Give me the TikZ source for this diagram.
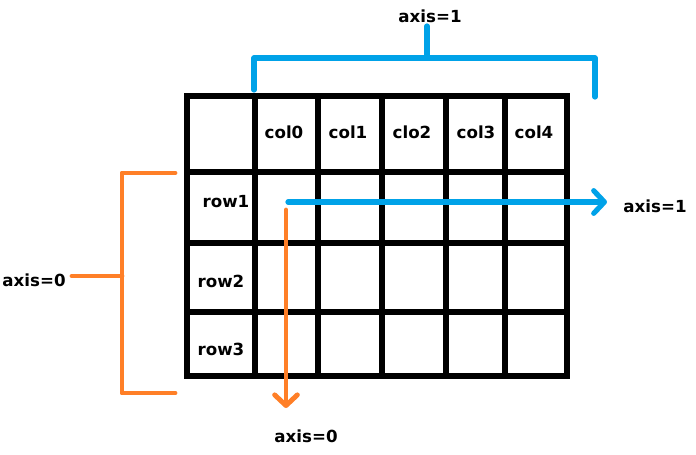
\documentclass[tikz,border=0pt]{standalone}
\usepackage{fontspec}
\setmainfont{DejaVu Sans}
\usetikzlibrary{arrows.meta}
\definecolor{pblue}{HTML}{00A2E8}
\definecolor{porange}{HTML}{FF7F27}
\begin{document}
\begin{tikzpicture}[x=0.75pt,y=-0.75pt,
  lbl/.style={font=\fontsize{12.5pt}{14pt}\selectfont\bfseries,inner sep=0pt},
  gridline/.style={line width=3.8pt,line cap=rect},
  bluel/.style={pblue,line width=3.9pt,line cap=round,line join=round},
  orangel/.style={porange,line width=3.7pt,line cap=round,line join=round},
  barb/.style={-{Straight Barb[length=8pt,width=17pt,round]}}]
\useasboundingbox (0,0) rectangle (696,454);
% grid
\foreach \x in {187,255,318,382,446,505,567}
  \draw[gridline] (\x,96) -- (\x,376);
\foreach \y in {96,172,243,312,376}
  \draw[gridline] (187,\y) -- (567,\y);
% labels
\node[lbl] (c0) at (284,132) {col0};
\node[lbl] (c1) at (348,132) {col1};
\node[lbl] (c2) at (412,132) {clo2};
\node[lbl] (c3) at (476,132) {col3};
\node[lbl] (c4) at (534,132) {col4};
\node[lbl] (r1) at (226,202) {row1};
\node[lbl] (r2) at (221,281) {row2};
\node[lbl] (r3) at (221,349) {row3};
\node[lbl] (a1top) at (430,16) {axis=1};
\node[lbl] (a1r) at (655,206) {axis=1};
\node[lbl] (a0b) at (306,436) {axis=0};
\node[lbl] (a0l) at (34,280) {axis=0};
% blue bracket
\coordinate (bl) at (254,90);
\coordinate (blt) at (254,58);
\coordinate (brt) at (595,58);
\coordinate (br) at (595,97);
\coordinate (bm) at (427,58);
\coordinate (bmt) at (427,26);
\draw[bluel] (bl) -- (blt) -- (brt) -- (br);
\draw[bluel] (bm) -- (bmt);
% orange bracket
\coordinate (ot) at (175,173);
\coordinate (otl) at (122,173);
\coordinate (obl) at (122,393);
\coordinate (ob) at (175,393);
\coordinate (om) at (122,276);
\coordinate (oms) at (72,276);
\draw[orangel] (ot) -- (otl) -- (obl) -- (ob);
\draw[orangel] (om) -- (oms);
% arrows
\coordinate (bs) at (288,202);
\coordinate (be) at (607,202);
\coordinate (os) at (286,210);
\coordinate (oe) at (286,408);
\draw[bluel,barb] (bs) -- (be);
\draw[orangel,barb] (os) -- (oe);
\end{tikzpicture}
\end{document}
